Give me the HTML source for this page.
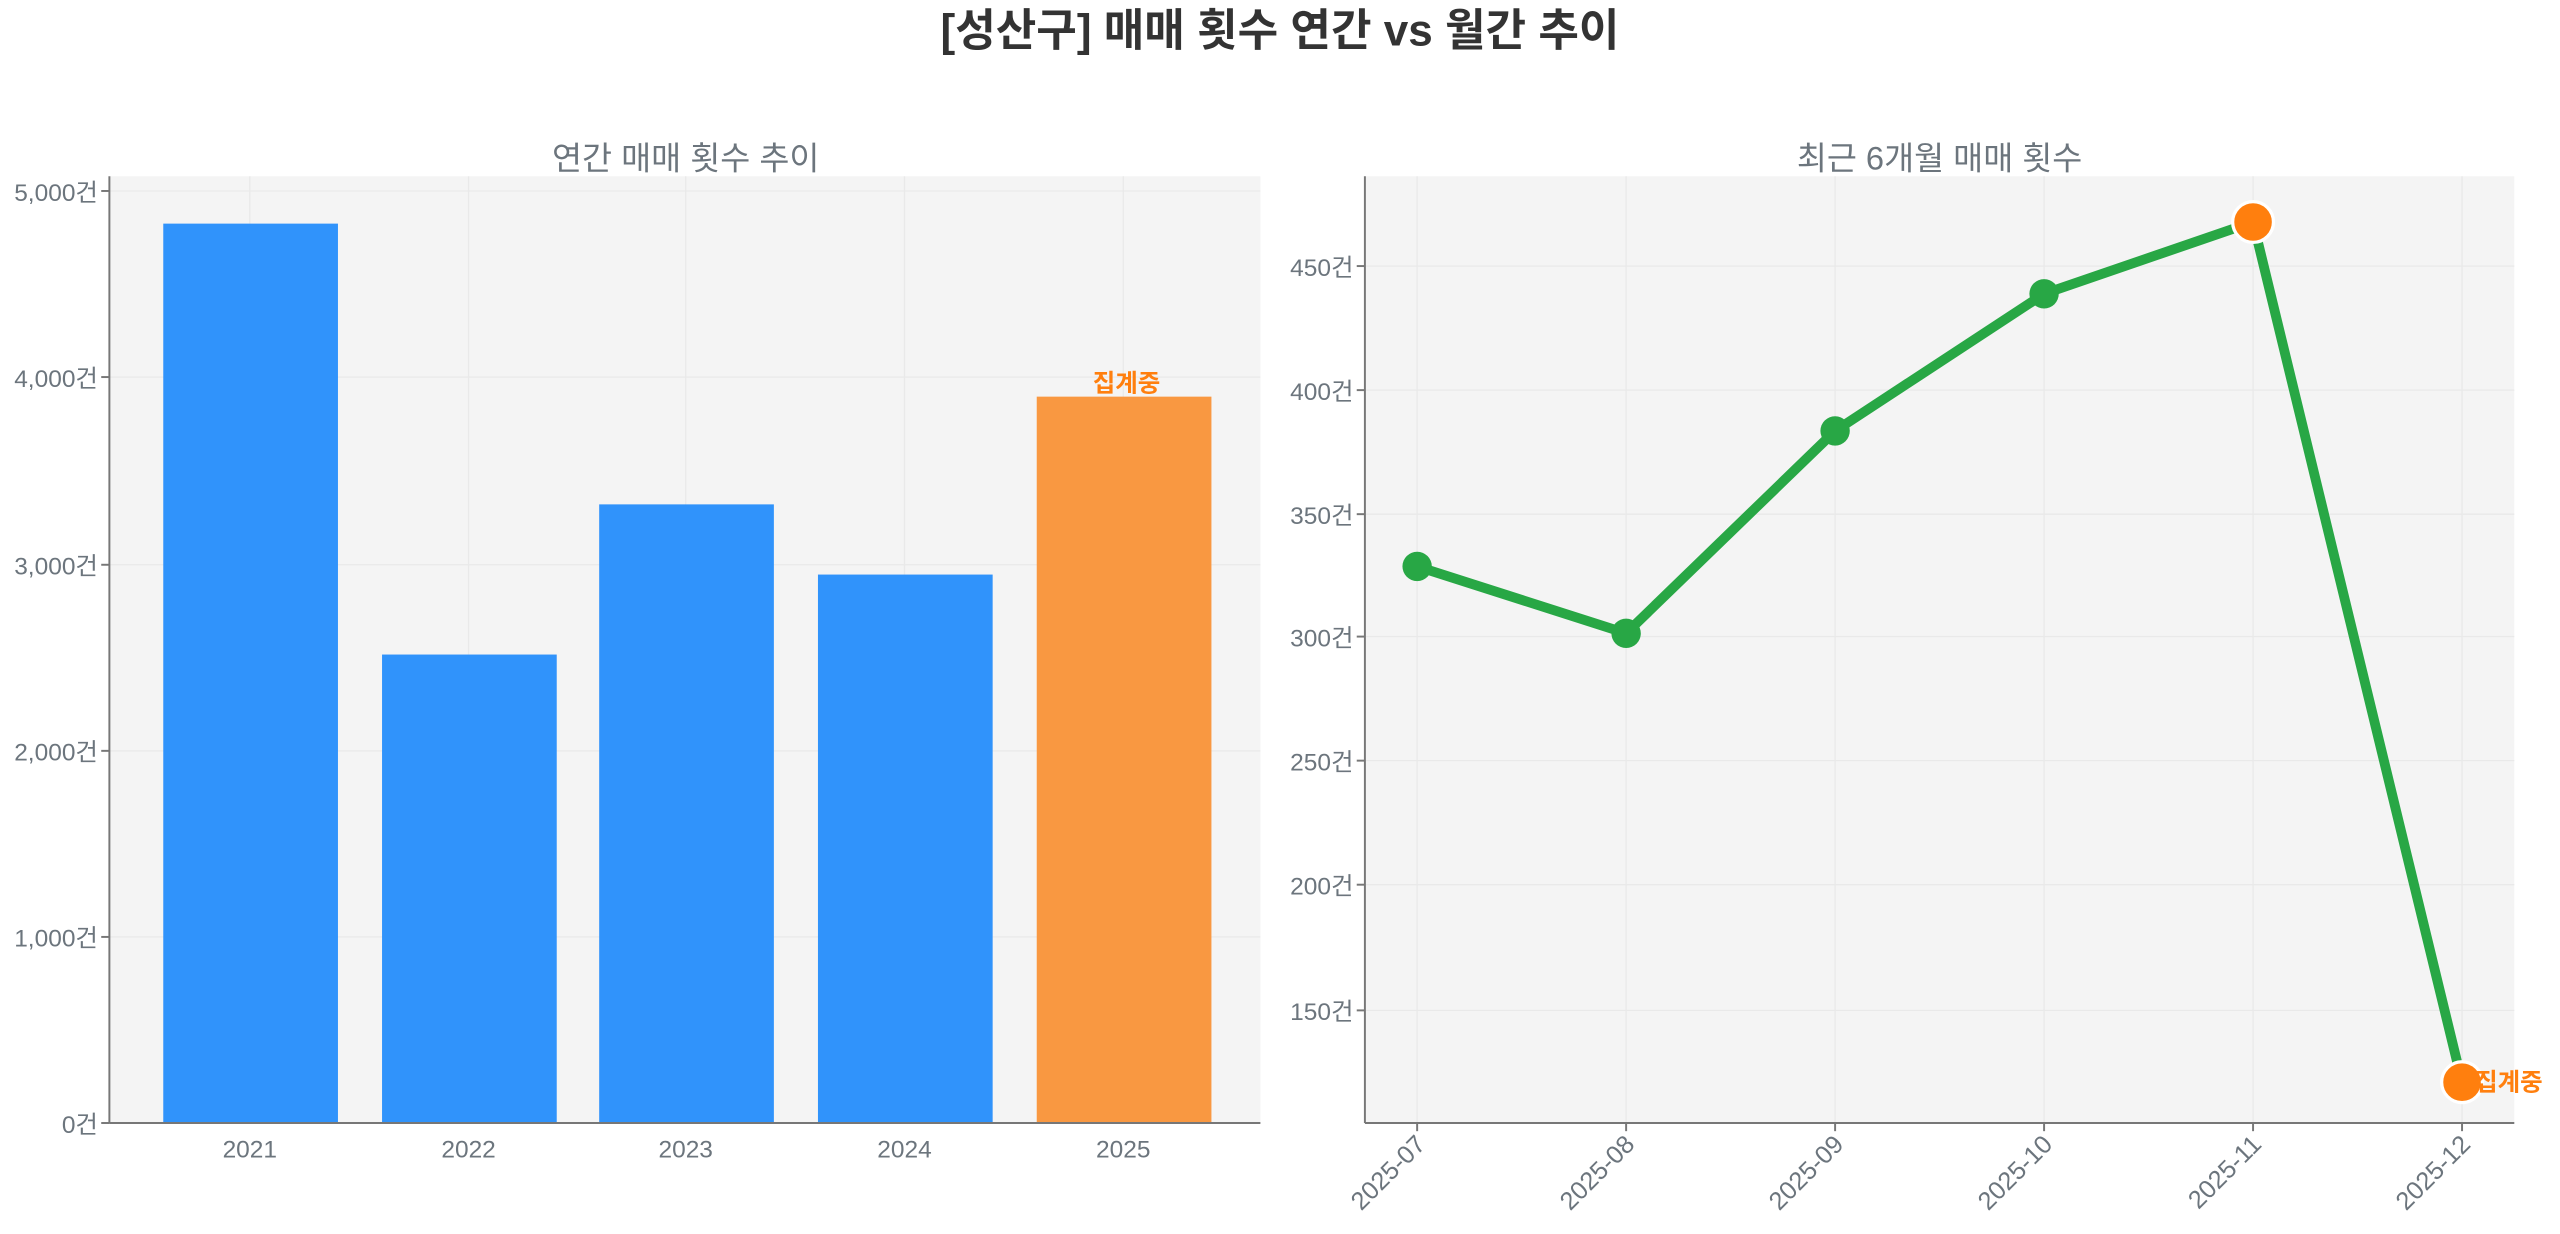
<!DOCTYPE html>
<html><head><meta charset="utf-8"><style>
html,body{margin:0;padding:0;background:#fff;}
svg{display:block;font-family:"Liberation Sans","Noto Sans CJK KR",sans-serif;}
</style></head><body>
<svg width="2560" height="1234" viewBox="0 0 1568 756" preserveAspectRatio="none">
<text x="784" y="28" text-anchor="middle" font-size="27" font-weight="bold" fill="#333">[성산구] 매매 횟수 연간 vs 월간 추이</text>
<!-- left -->
<text x="420" y="104" text-anchor="middle" font-size="20" fill="#6c757d">연간 매매 횟수 추이</text>
<rect x="67" y="108" width="705" height="580" fill="#f4f4f4"/>
<g stroke="#e9e9e9" stroke-width="0.8">
<line x1="67" x2="772" y1="117" y2="117"/><line x1="67" x2="772" y1="231" y2="231"/>
<line x1="67" x2="772" y1="346" y2="346"/><line x1="67" x2="772" y1="460" y2="460"/>
<line x1="67" x2="772" y1="574" y2="574"/>
<line x1="153" x2="153" y1="108" y2="688"/><line x1="287" x2="287" y1="108" y2="688"/>
<line x1="420" x2="420" y1="108" y2="688"/><line x1="554" x2="554" y1="108" y2="688"/>
<line x1="688" x2="688" y1="108" y2="688"/>
</g>
<rect x="100" y="137" width="107" height="551" fill="#3093fb"/>
<rect x="234" y="401" width="107" height="287" fill="#3093fb"/>
<rect x="367" y="309" width="107" height="379" fill="#3093fb"/>
<rect x="501" y="352" width="107" height="336" fill="#3093fb"/>
<rect x="635" y="243" width="107" height="445" fill="#f99841"/>
<text x="690" y="240" text-anchor="middle" font-size="15" font-weight="bold" fill="#ff7f0e">집계중</text>
<g stroke="#777" stroke-width="1.2"><line x1="67" x2="67" y1="108" y2="688"/><line x1="67" x2="772" y1="688" y2="688"/>
<line x1="62" x2="67" y1="117" y2="117"/><line x1="62" x2="67" y1="231" y2="231"/><line x1="62" x2="67" y1="346" y2="346"/><line x1="62" x2="67" y1="460" y2="460"/><line x1="62" x2="67" y1="574" y2="574"/><line x1="62" x2="67" y1="688" y2="688"/></g>
<g font-size="15" fill="#6c757d" text-anchor="end">
<text x="60" y="123">5,000건</text><text x="60" y="237">4,000건</text><text x="60" y="352">3,000건</text><text x="60" y="466">2,000건</text><text x="60" y="580">1,000건</text><text x="60" y="694">0건</text>
</g>
<g font-size="15" fill="#6c757d" text-anchor="middle">
<text x="153" y="709">2021</text><text x="287" y="709">2022</text><text x="420" y="709">2023</text><text x="554" y="709">2024</text><text x="688" y="709">2025</text>
</g>
<!-- right -->
<text x="1188" y="104" text-anchor="middle" font-size="20" fill="#6c757d">최근 6개월 매매 횟수</text>
<rect x="836" y="108" width="704" height="580" fill="#f4f4f4"/>
<g stroke="#e9e9e9" stroke-width="0.8">
<line x1="836" x2="1540" y1="163" y2="163"/><line x1="836" x2="1540" y1="239" y2="239"/>
<line x1="836" x2="1540" y1="315" y2="315"/><line x1="836" x2="1540" y1="390" y2="390"/>
<line x1="836" x2="1540" y1="466" y2="466"/><line x1="836" x2="1540" y1="542" y2="542"/>
<line x1="836" x2="1540" y1="619" y2="619"/>
<line x1="868" x2="868" y1="108" y2="688"/><line x1="996" x2="996" y1="108" y2="688"/>
<line x1="1124" x2="1124" y1="108" y2="688"/><line x1="1252" x2="1252" y1="108" y2="688"/>
<line x1="1380" x2="1380" y1="108" y2="688"/><line x1="1508" x2="1508" y1="108" y2="688"/>
</g>
<polyline points="868,347 996,388 1124,264 1252,180 1380,136 1508,663" fill="none" stroke="#28a745" stroke-width="6" stroke-linejoin="round"/>
<g fill="#28a745"><circle cx="868" cy="347" r="9"/><circle cx="996" cy="388" r="9"/><circle cx="1124" cy="264" r="9"/><circle cx="1252" cy="180" r="9"/></g>
<g fill="#ff7f0e" stroke="#fff" stroke-width="2"><circle cx="1380" cy="136" r="12.5"/><circle cx="1508" cy="663" r="12.5"/></g>
<text x="1516" y="668" font-size="15" font-weight="bold" fill="#ff7f0e">집계중</text>
<g stroke="#777" stroke-width="1.2"><line x1="836" x2="836" y1="108" y2="688"/><line x1="836" x2="1540" y1="688" y2="688"/>
<line x1="831" x2="836" y1="163" y2="163"/><line x1="831" x2="836" y1="239" y2="239"/><line x1="831" x2="836" y1="315" y2="315"/><line x1="831" x2="836" y1="390" y2="390"/><line x1="831" x2="836" y1="466" y2="466"/><line x1="831" x2="836" y1="542" y2="542"/><line x1="831" x2="836" y1="619" y2="619"/>
<line x1="868" x2="868" y1="688" y2="693"/><line x1="996" x2="996" y1="688" y2="693"/><line x1="1124" x2="1124" y1="688" y2="693"/><line x1="1252" x2="1252" y1="688" y2="693"/><line x1="1380" x2="1380" y1="688" y2="693"/><line x1="1508" x2="1508" y1="688" y2="693"/></g>
<g font-size="15" fill="#6c757d" text-anchor="end">
<text x="829" y="169">450건</text><text x="829" y="245">400건</text><text x="829" y="321">350건</text><text x="829" y="396">300건</text><text x="829" y="472">250건</text><text x="829" y="548">200건</text><text x="829" y="625">150건</text>
</g>
<g font-size="15.5" fill="#6c757d" text-anchor="end">
<text transform="translate(874,702) rotate(-45)">2025-07</text>
<text transform="translate(1002,702) rotate(-45)">2025-08</text>
<text transform="translate(1130,702) rotate(-45)">2025-09</text>
<text transform="translate(1258,702) rotate(-45)">2025-10</text>
<text transform="translate(1386,702) rotate(-45)">2025-11</text>
<text transform="translate(1514,702) rotate(-45)">2025-12</text>
</g>
</svg>
</body></html>
